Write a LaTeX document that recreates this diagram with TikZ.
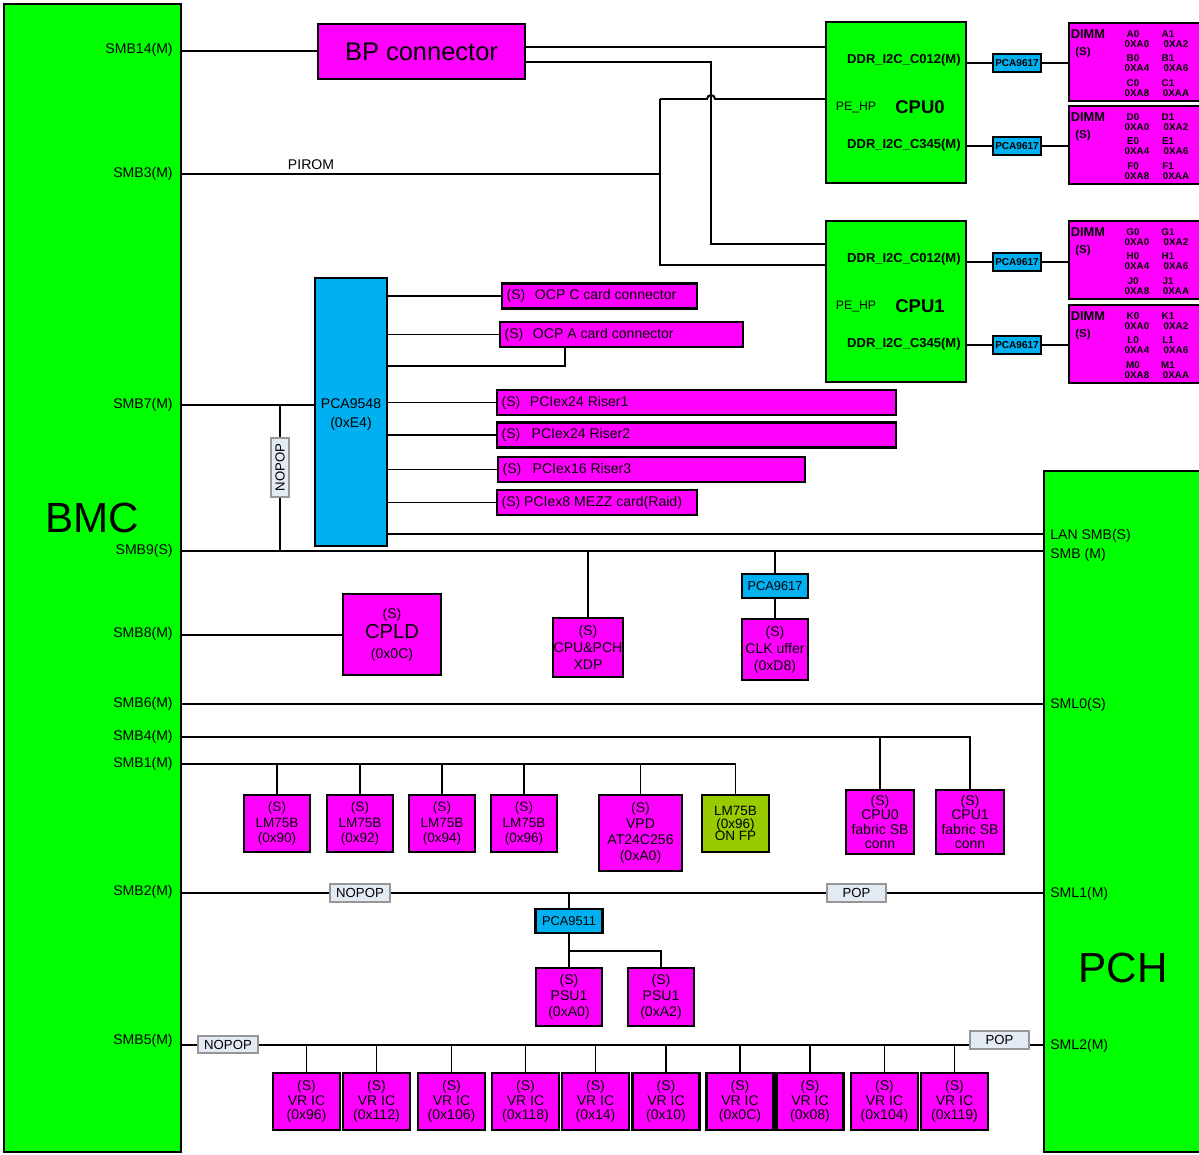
\documentclass[tikz,border=0pt]{standalone}
\usepackage{fontspec}
\setmainfont{Liberation Sans}
\definecolor{chipgreen}{RGB}{0,255,0}
\definecolor{slavepink}{RGB}{255,0,255}
\definecolor{muxblue}{RGB}{0,176,240}
\definecolor{fpgreen}{RGB}{153,204,0}
\definecolor{jumpfill}{RGB}{228,234,244}
\definecolor{jumpgray}{RGB}{150,150,150}
\tikzset{
  sz/.style 2 args={minimum width=#1*0.02cm, minimum height=#2*0.02cm},
  chip/.style={draw, line width=1.6pt, fill=chipgreen, inner sep=0pt},
  slave/.style={draw, line width=1.2pt, fill=slavepink, inner sep=0pt,
    align=center, font=\fontsize{8}{9}\selectfont},
  mux/.style={draw, line width=1.2pt, fill=muxblue, inner sep=0pt,
    align=center, font=\fontsize{7.3}{9}\selectfont},
  jumper/.style={draw=jumpgray, line width=0.6pt, fill=jumpfill, inner sep=0pt,
    font=\fontsize{7.5}{9}\selectfont},
  bus/.style={line width=1.1pt},
}
\tikzset{
  pinlbl/.style={inner sep=0pt, font=\fontsize{8}{9.5}\selectfont},
  boxtxt/.style={inner sep=0pt, font=\fontsize{8}{9.5}\selectfont},
  bigtxt/.style={inner sep=0pt, font=\fontsize{24}{28}\selectfont},
  ddr/.style={inner sep=0pt, font=\fontsize{7.4}{8}\selectfont\bfseries},
  addr/.style={inner sep=0pt, font=\fontsize{5.6}{6}\selectfont\bfseries},
}
\begin{document}
\begin{tikzpicture}[x=0.02cm, y=-0.02cm]
\clip (0,0) rectangle (1199,1154);
\fill[white] (0,0) rectangle (1199,1154);

% BMC and PCH
\node[chip, sz={177}{1148}] (bmc) at (92.5,578) {};
\node[bigtxt] (bmclbl) at (92,518) {BMC};
\node[chip, sz={170}{681}] (pch) at (1129,811.5) {};
\node[bigtxt] (pchlbl) at (1123,968) {PCH};
\foreach \yy/\txt in {50/SMB14(M),174/SMB3(M),405/SMB7(M),551/SMB9(S),634/SMB8(M),
    704/SMB6(M),737/SMB4(M),764/SMB1(M),892/SMB2(M),1041/SMB5(M)}
  \node[pinlbl, anchor=east] (bmcpin\yy) at (173,\yy) {\txt};
\foreach \yy/\txt in {536/LAN SMB(S),555/SMB (M),705/SML0(S),894/SML1(M),1046/SML2(M)}
  \node[pinlbl, anchor=west] (pchpin\yy) at (1050,\yy) {\txt};
\foreach \nm/\yy in {smb14/51,smb3/174,smb7/405,smb9/551,smb8/635,smb6/704,
    smb4/737,smb1/764,smb2/893,smb5/1045}
  \coordinate (\nm) at (bmc.east |- 0,\yy);

% CPUs, muxes and DIMMs
\node[chip, line width=1.2pt, sz={140}{161}] (cpu0) at (896,102.5) {};
\node[chip, line width=1.2pt, sz={140}{161}] (cpu1) at (896,301.5) {};
\foreach \c/\yo in {0/0,1/199}{
  \node[ddr, anchor=east] (cpu\c-a) at (961,60+\yo) {DDR\_I2C\_C012(M)};
  \node[ddr, anchor=east] (cpu\c-b) at (961,145+\yo) {DDR\_I2C\_C345(M)};
  \node[pinlbl, font=\fontsize{7}{8}\selectfont] (cpu\c-hp) at (856,107+\yo) {PE\_HP};
  \node[inner sep=0pt, font=\fontsize{10.5}{12}\selectfont\bfseries] (cpu\c-n) at (920,107+\yo) {CPU\c};
}
\foreach \n/\cpu/\yl/\dtop/\ca/\cb/\cc in {0/cpu0/63/23/A/B/C,1/cpu0/146/106/D/E/F,
    2/cpu1/262/221/G/H/J,3/cpu1/345/305/K/L/M}{
  \node[mux, sz={48}{18}, font=\fontsize{5.7}{6}\selectfont\bfseries] (p\n) at (1017,\yl) {PCA9617};
  \node[slave, sz={136}{78}] (dimm\n) at (1137,\dtop+39) {};
  \node[inner sep=0pt, font=\fontsize{7.3}{8}\selectfont\bfseries] (dimm\n-a) at (1088,\dtop+11) {DIMM};
  \node[inner sep=0pt, font=\fontsize{6.5}{8}\selectfont\bfseries] (dimm\n-s) at (1083,\dtop+30) {(S)};
  \foreach \rw/\dy/\xa/\xb [count=\kk] in {\ca/11/A0/A2,\cb/35/A4/A6,\cc/60/A8/AA}{
    \node[addr] (dimm\n-\kk-a) at (1133,\dtop+\dy) {\rw0};
    \node[addr] (dimm\n-\kk-b) at (1137,\dtop+\dy+10) {0X\xa};
    \node[addr] (dimm\n-\kk-c) at (1168,\dtop+\dy) {\rw1};
    \node[addr] (dimm\n-\kk-d) at (1176,\dtop+\dy+10) {0X\xb};
  }
  \draw[bus] (\cpu.east |- p\n.west) -- (p\n.west);
  \draw[bus] (p\n.east) -- (p\n.east -| dimm\n.west);
}

% BP connector and PIROM
\node[slave, sz={207}{55}, font=\fontsize{14.5}{16}\selectfont] (bp) at (421.5,51.5) {BP connector};
\draw[bus] (smb14) -- (smb14 -| bp.west);
\draw[bus] (bp.east |- 0,47) -- (cpu0.west |- 0,47);
\draw[bus] (bp.east |- 0,62) -- (711,62) -- (711,244) -- (cpu1.west |- 0,244);
\coordinate (pirom) at (660,174);
\node[pinlbl] (piromlbl) at (311,165) {PIROM};
\draw[bus] (smb3) -- (pirom);
\draw[bus] (660,99) -- (660,265) -- (cpu1.west |- 0,265);
\draw[bus] (660,99) -- (707,99) arc[start angle=180, end angle=0, radius=0.08cm] -- (cpu0.west |- 0,99);

% SMB7 mux
\node[mux, sz={72}{268}] (pca9548) at (351,412) {};
\node[inner sep=0pt, align=center, font=\fontsize{8}{10.8}\selectfont] (pca9548-t) at (351,415) {PCA9548\\(0xE4)};
\draw[bus] (smb7) -- (smb7 -| pca9548.west);
\node[jumper, sz={59}{18}, rotate=90] (nopop7) at (280,467.5) {NOPOP};
\draw[bus] (280,405) -- (nopop7.east);
\draw[bus] (nopop7.west) -- (280,551);
\foreach \nm/\cx/\cy/\w/\txt in {ocpc/599.5/296/195/{(S)\hspace{5.5pt}OCP C card connector},
    ocpa/621.5/334.5/243/{(S)\hspace{5.5pt}OCP A card connector},
    riser1/696.5/402.5/399/{(S)\hspace{5.5pt}PCIex24 Riser1},
    riser2/696.5/435/399/{(S)\hspace{6.5pt}PCIex24 Riser2},
    riser3/651.5/469.5/307/{(S)\hspace{6.5pt}PCIex16 Riser3},
    mezz/597/502.5/200/{(S) PCIex8 MEZZ card(Raid)}}{
  \node[slave, sz={\w}{25}] (\nm) at (\cx,\cy) {};
  \node[boxtxt, anchor=west] (\nm-t) at ([xshift=3pt]\nm.west) {\txt};
  \draw[bus] (pca9548.east |- \nm.west) -- (\nm.west);
}
\draw[bus] (pca9548.east |- 0,366) -- (565,366) -- (565,0 |- ocpa.south);
\draw[bus] (pca9548.east |- 0,534) -- (pch.west |- 0,534);

% SMB9 and SMB8
\draw[bus] (smb9) -- (smb9 -| pch.west);
\node[slave, sz={70}{59}, font=\fontsize{8}{9.6}\selectfont] (xdp) at (588,647.5) {(S)\\CPU\&PCH\\XDP};
\draw[bus] (xdp.north) -- (xdp.north |- smb9);
\node[mux, sz={66}{24}] (pca9617c) at (775,586) {PCA9617};
\node[slave, sz={66}{61}, font=\fontsize{8}{9.6}\selectfont] (clk) at (775,649.5) {(S)\\CLK uffer\\(0xD8)};
\draw[bus] (pca9617c.north) -- (pca9617c.north |- smb9);
\draw[bus] (pca9617c.south) -- (clk.north);
\node[slave, sz={98}{81}, font=\fontsize{8}{11.3}\selectfont] (cpld) at (392,634.5)
  {(S)\\{\fontsize{11.5}{11.3}\selectfont CPLD}\\(0x0C)};
\draw[bus] (smb8) -- (smb8 -| cpld.west);

% SMB6, SMB4, SMB1
\draw[bus] (smb6) -- (smb6 -| pch.west);
\node[slave, sz={68}{64}, font=\fontsize{8}{8.3}\selectfont] (fab0) at (880,822) {(S)\\CPU0\\fabric SB\\conn};
\node[slave, sz={68}{64}, font=\fontsize{8}{8.3}\selectfont] (fab1) at (970,822) {(S)\\CPU1\\fabric SB\\conn};
\draw[bus] (smb4) -| (fab1.north);
\draw[bus] (fab0.north) -- (fab0.north |- smb4);
\foreach \nm/\cx/\ad in {lm0/277/90,lm1/360/92,lm2/442/94,lm3/524/96}{
  \node[slave, sz={66}{57}, font=\fontsize{7.7}{9}\selectfont] (\nm) at (\cx,823.5) {(S)\\LM75B\\(0x\ad)};
  \draw[bus] (\nm.north) -- (\nm.north |- smb1);
}
\node[slave, sz={83}{76}] (vpd) at (640.5,833) {(S)\\VPD\\AT24C256\\(0xA0)};
\node[slave, fill=fpgreen, sz={67}{57}, font=\fontsize{7.7}{7}\selectfont] (lmfp) at (735.5,823.5) {LM75B\\(0x96)\\ON FP};
\draw[bus] (smb1) -| (lmfp.north);
\draw[bus] (vpd.north) -- (vpd.north |- smb1);

% SMB2
\node[jumper, sz={60}{18}] (nopop2) at (360,893) {NOPOP};
\node[jumper, sz={59}{18}] (pop2) at (856.5,893) {POP};
\draw[bus] (smb2) -- (nopop2.west);
\draw[bus] (nopop2.east) -- (pop2.west);
\draw[bus] (pop2.east) -- (pop2.east -| pch.west);
\node[mux, sz={67}{24}] (pca9511) at (569,921) {PCA9511};
\draw[bus] (pca9511.north) -- (pca9511.north |- smb2);
\node[slave, sz={66}{58}] (psu0) at (569,997) {(S)\\PSU1\\(0xA0)};
\node[slave, sz={66}{58}] (psu1) at (661,997) {(S)\\PSU1\\(0xA2)};
\draw[bus] (pca9511.south) -- (psu0.north);
\draw[bus] (pca9511.south |- 0,951) -| (psu1.north);

% SMB5
\node[jumper, sz={60}{17}] (nopop5) at (228,1044.5) {NOPOP};
\node[jumper, sz={59}{18}] (pop5) at (999.5,1040) {POP};
\draw[bus] (smb5) -- (smb5 -| nopop5.west);
\draw[bus] (smb5 -| nopop5.east) -- (smb5 -| pop5.west);
\draw[bus] (smb5 -| pop5.east) -- (smb5 -| pch.west);
\foreach \k/\cx/\ad in {0/306.5/96,1/376.5/112,2/451.5/106,3/525.5/118,4/595.5/14,
    5/666/10,6/740/0C,7/810/08,8/884.5/104,9/954.5/119}{
  \node[slave, sz={67}{57}, font=\fontsize{8}{8.3}\selectfont] (vr\k) at (\cx,1101.5) {(S)\\VR IC\\(0x\ad)};
  \draw[bus] (vr\k.north) -- (vr\k.north |- smb5);
}
\end{tikzpicture}
\end{document}
